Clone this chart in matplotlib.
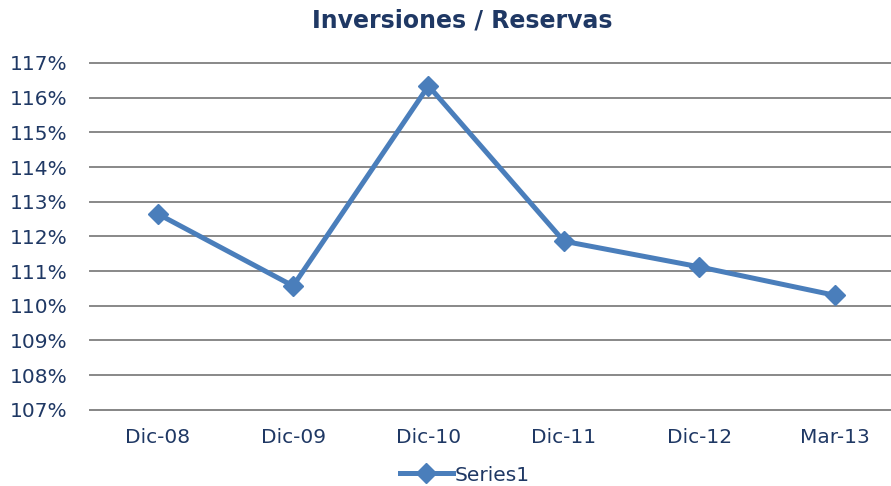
import matplotlib
matplotlib.use("Agg")
import matplotlib.pyplot as plt
from matplotlib.ticker import FuncFormatter

categories = ["Dic-08", "Dic-09", "Dic-10", "Dic-11", "Dic-12", "Mar-13"]
values = [112.65, 110.57, 116.34, 111.86, 111.12, 110.30]
yticks = list(range(107, 118))

txt = "#1f3864"
line_c = "#4a7ebb"

fig = plt.figure(figsize=(8.91, 4.86), dpi=100)
ax = fig.add_axes([90/891, 1 - 409.7/486, 801/891, (409.7-63)/486])
x = list(range(len(categories)))
ax.plot(x, values, color=line_c, lw=3.6, marker="D", ms=10, label="Series1", zorder=3,
        clip_on=False)
ax.set_xlim(-0.5, -0.5 + 801/135.4)
ax.set_ylim(107, 117)
ax.set_yticks(yticks)
ax.yaxis.set_major_formatter(FuncFormatter(lambda v, p: f"{v:.0f}%"))
ax.set_xticks(x)
ax.set_xticklabels(categories)
ax.grid(axis="y", color="#888888", lw=1.4)
for gl in ax.get_ygridlines():
    gl.set_clip_on(False)
ax.set_axisbelow(True)
for s in ["top", "right", "left"]:
    ax.spines[s].set_visible(False)
ax.spines["bottom"].set_color("#888888")
ax.spines["bottom"].set_linewidth(1.4)
ax.tick_params(axis="both", length=0, labelsize=14.5, colors=txt)
ax.tick_params(axis="y", pad=16)
ax.tick_params(axis="x", pad=13)
fig.text(462/891, 1 - 21/486, "Inversiones / Reservas", ha="center", va="center",
         fontsize=17, fontweight="bold", color=txt)
leg = fig.legend(loc="center", bbox_to_anchor=(465/891, 1 - 475/486), frameon=False,
                 fontsize=14.5, labelcolor=txt, handlelength=2.6, handletextpad=0.1)
fig.savefig("out.png", dpi=100)
